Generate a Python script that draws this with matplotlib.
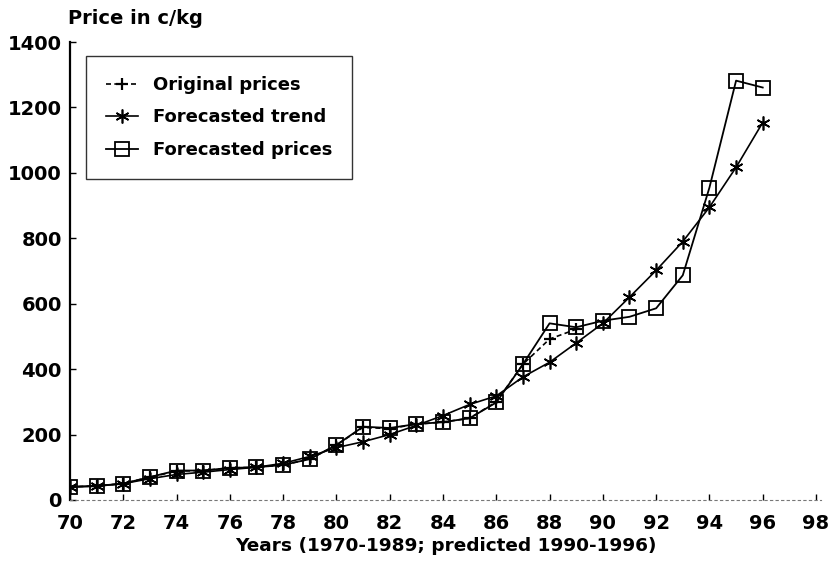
import matplotlib
matplotlib.use("Agg")
import matplotlib.pyplot as plt

plt.rcParams['font.family'] = ['DejaVu Sans']

years_orig = [70, 71, 72, 73, 74, 75, 76, 77, 78, 79, 80, 81, 82, 83, 84, 85, 86, 87, 88, 89]
orig_prices = [40, 43, 50, 70, 88, 90, 98, 100, 107, 125, 168, 222, 218, 232, 238, 250, 300, 415, 492, 522]

years_all = [70, 71, 72, 73, 74, 75, 76, 77, 78, 79, 80, 81, 82, 83, 84, 85, 86, 87, 88, 89,
             90, 91, 92, 93, 94, 95, 96]
trend = [40, 42, 50, 65, 78, 85, 93, 100, 112, 133, 160, 178, 200, 228, 258, 292, 318, 376, 421, 480,
         540, 620, 702, 790, 895, 1017, 1154]
fc_prices = [40, 43, 50, 70, 90, 90, 98, 100, 107, 125, 168, 224, 220, 232, 238, 250, 298, 415, 540, 528,
             548, 560, 586, 687, 955, 1282, 1261]

x_ticks = list(range(70, 99, 2))
y_ticks = list(range(0, 1401, 200))

fig = plt.figure(figsize=(8.33, 5.76), dpi=100)
ax = fig.add_axes([0.084, 0.132, 0.902, 0.795])

ax.plot(years_orig, orig_prices, color='black', linestyle=(0, (3, 2)), linewidth=1.2,
        marker='+', markersize=9, markeredgewidth=1.6, label='Original prices')
ax.plot(years_all, trend, color='black', linestyle='-', linewidth=1.2,
        marker=(6, 2, 0), markersize=10, markeredgewidth=1.2, label='Forecasted trend')
ax.plot(years_all, fc_prices, color='black', linestyle='-', linewidth=1.3,
        marker='s', markersize=10, markerfacecolor='none', markeredgewidth=1.3,
        label='Forecasted prices')

ax.set_xlim(70, 98.2)
ax.set_ylim(0, 1400)
ax.set_xticks(x_ticks)
ax.set_xticklabels([str(t) for t in x_ticks])
ax.set_yticks(y_ticks)
ax.set_yticklabels([str(t) for t in y_ticks])

for s in ['top', 'right']:
    ax.spines[s].set_visible(False)
ax.spines['left'].set_linewidth(1.6)
ax.spines['bottom'].set_linestyle((0, (2, 3)))
ax.spines['bottom'].set_color('#777777')
ax.spines['bottom'].set_linewidth(0.8)

ax.tick_params(axis='both', direction='in', length=4, width=1, labelsize=14)
ax.tick_params(axis='x', pad=10)
ax.tick_params(axis='y', pad=6)
for lbl in ax.get_xticklabels() + ax.get_yticklabels():
    lbl.set_fontweight('bold')

ax.set_xlabel('Years (1970-1989; predicted 1990-1996)', fontsize=13.3, fontweight='bold', labelpad=3)
fig.text(0.082, 0.968, 'Price in c/kg', fontsize=14, fontweight='bold', ha='left', va='center')

leg = ax.legend(loc='upper left', bbox_to_anchor=(0.009, 0.989), frameon=True, fancybox=False,
                edgecolor='black', prop={'weight': 'bold', 'size': 13}, handlelength=1.8,
                borderpad=1.1, labelspacing=0.8, handletextpad=0.8)
leg.get_frame().set_linewidth(1.0)

fig.savefig('out.png', dpi=100)
